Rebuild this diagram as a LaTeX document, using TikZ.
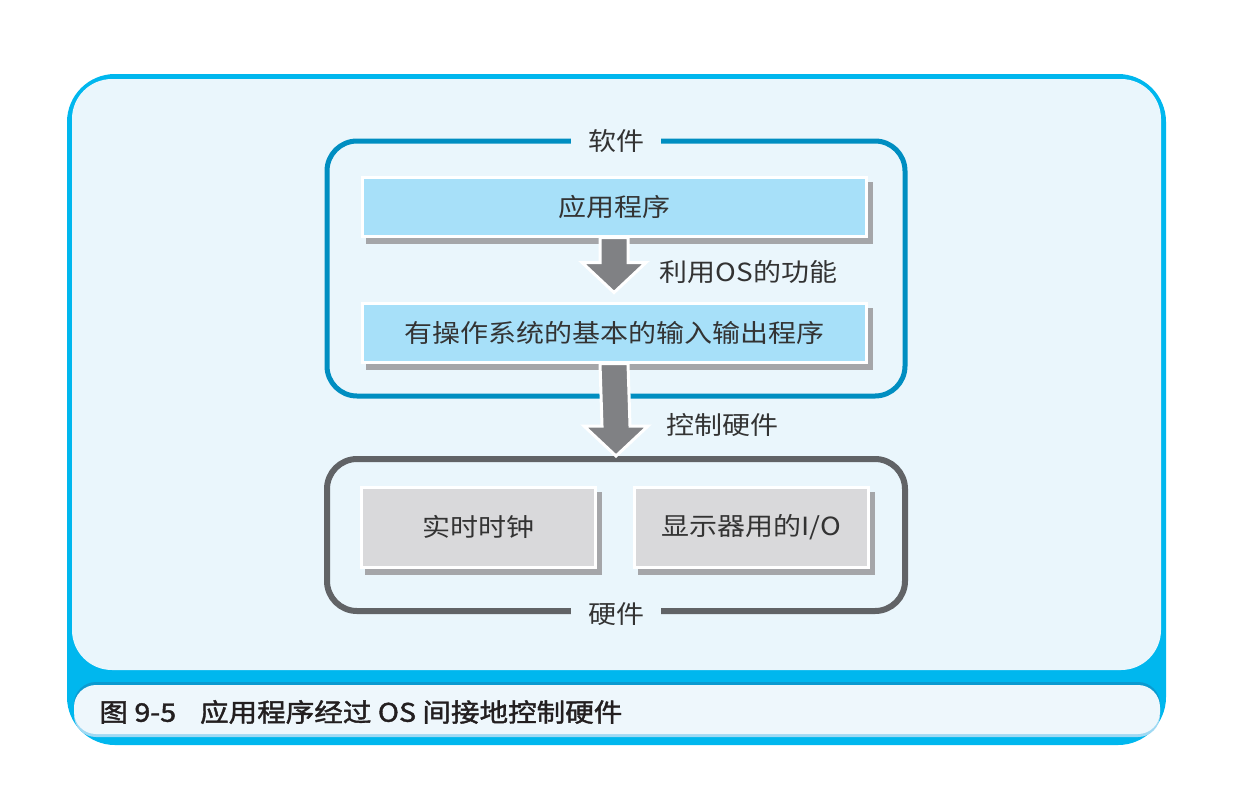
\documentclass[tikz,border=0pt]{standalone}
\usepackage{fontspec}
\usepackage{xcolor}
\usetikzlibrary{calc}
\newfontfamily\cjk[FakeStretch=1.12]{Noto Sans CJK SC}
\newfontfamily\capcjk[FakeStretch=1.12,FakeBold=1.6]{Noto Sans CJK SC}
\definecolor{framecyan}{HTML}{00B7EE}
\definecolor{panel}{HTML}{EAF6FC}
\definecolor{captop}{HTML}{0B9AD0}
\definecolor{capbottom}{HTML}{9FD9F3}
\definecolor{capfill}{HTML}{EEF7FC}
\definecolor{swblue}{HTML}{008EC1}
\definecolor{appblue}{HTML}{A7E0F9}
\definecolor{hwgray}{HTML}{616366}
\definecolor{boxgray}{HTML}{D9D9DB}
\definecolor{shadowgray}{HTML}{A5A6A9}
\definecolor{arrowgray}{HTML}{808184}
\definecolor{ink}{HTML}{333333}
\definecolor{capink}{HTML}{231F20}
\tikzset{
	softframe/.style={draw=swblue,line width=5pt,rounded corners=30pt,minimum width=578pt,minimum height=255pt},%
	hardframe/.style={draw=hwgray,line width=6pt,rounded corners=30pt,minimum width=578pt,minimum height=152pt},%
	framelabel/.style={fill=panel,text=ink,inner xsep=17pt,inner ysep=2pt,font=\cjk\fontsize{25}{30}\selectfont},%
	shadowed/.style={preaction={fill=shadowgray,draw=shadowgray,transform canvas={xshift=5pt,yshift=-6pt}}},%
	progbox/.style={shadowed,fill=appblue,draw=white,line width=3pt,minimum width=504pt,minimum height=59pt,text=ink,font=\cjk\fontsize{25}{30}\selectfont},%
	devbox/.style={shadowed,fill=boxgray,draw=white,line width=3pt,minimum width=234pt,minimum height=80pt,text=ink,font=\cjk\fontsize{25}{30}\selectfont},%
	note/.style={text=ink,font=\cjk\fontsize{25}{30}\selectfont},%
	caption/.style={text=capink,font=\capcjk\fontsize{25.5}{30}\selectfont},%
	blockarrow/.style={fill=arrowgray,draw=white,line width=3pt,line join=miter},%
}
\newcommand{\blockarrow}[2]{%
	\draw[blockarrow] ($(#1)+(-14,0)$) -- ($(#2)+(-14,-30)$) -- ($(#2)+(-32,-30)$) -- (#2) -- ($(#2)+(32,-30)$) -- ($(#2)+(14,-30)$) -- ($(#1)+(14,0)$) -- cycle;%
}
\begin{document}
\begin{tikzpicture}[x=1pt,y=-1pt]
	\useasboundingbox (0,0) rectangle (1234,796);
	% Frame {{{
	\fill[framecyan,rounded corners=48pt] (67,74) rectangle (1166,745);
	\fill[panel,rounded corners=40pt] (72,79) rectangle (1161,670);
	\fill[capbottom,rounded corners=22pt] (74,686) rectangle (1160,737);
	\fill[captop,rounded corners=22pt] (74,682) rectangle (1160,733);
	\fill[capfill,rounded corners=22pt] (74,685) rectangle (1160,734);
	\node[caption,anchor=west] (cap) at (96,712) {图 9-5\hspace{24pt}应用程序经过 OS 间接地控制硬件};
	% }}}
	% Software {{{
	\node[softframe] (sw) at (616,268.5) {};
	\node[framelabel] (swlabel) at ($(sw.north)+(0,2)$) {软件};
	\node[progbox] (app) at (614,206.5) {应用程序};
	\node[progbox] (bios) at (614,332.5) {有操作系统的基本的输入输出程序};
	% }}}
	% Hardware {{{
	\node[hardframe] (hw) at (616,535) {};
	\node[framelabel] (hwlabel) at (hw.south) {硬件};
	\node[devbox] (clock) at (478,527) {实时时钟};
	\node[devbox] (disp) at (751,527) {显示器用的I/O};
	% }}}
	% Arrows {{{
	\coordinate (tipos) at ($(bios.north)+(0,-9)$);
	\coordinate (tiphw) at (hw.north);
	\blockarrow{app.south}{tipos}
	\blockarrow{bios.south}{tiphw}
	\node[note,anchor=west] (uselabel) at (656,272) {利用OS的功能};
	\node[note,anchor=west] (ctrllabel) at (663,425) {控制硬件};
	% }}}
\end{tikzpicture}
\end{document}
